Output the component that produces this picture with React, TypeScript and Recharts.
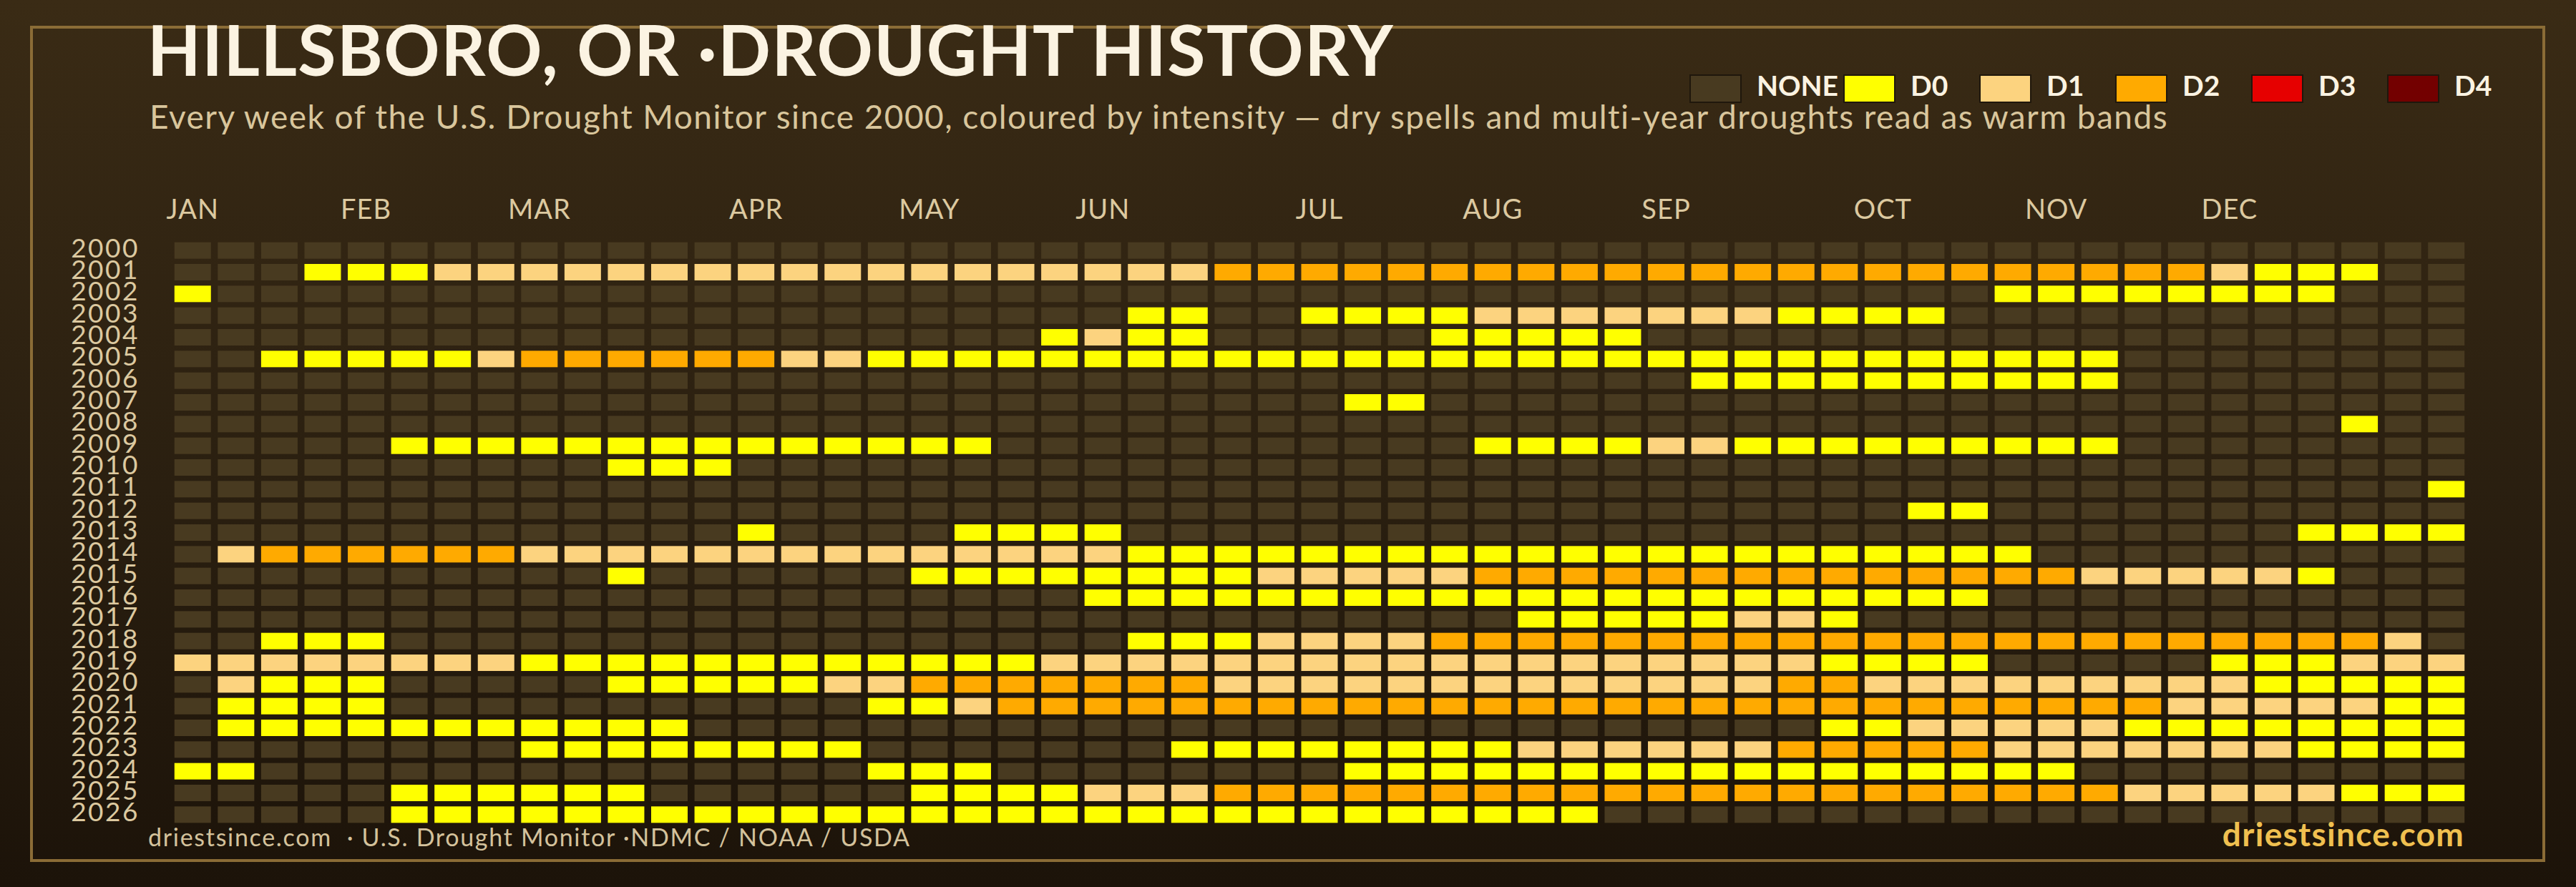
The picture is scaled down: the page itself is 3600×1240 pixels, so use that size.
import React from "react";
import { ScatterChart, Scatter, XAxis, YAxis } from "recharts";

// ---------- DATA ----------
const YEARS = [
  "2000", "2001", "2002", "2003", "2004", "2005", "2006", "2007", "2008",
  "2009", "2010", "2011", "2012", "2013", "2014", "2015", "2016", "2017",
  "2018", "2019", "2020", "2021", "2022", "2023", "2024", "2025", "2026",
];

const MONTH_LABELS = ["JAN", "FEB", "MAR", "APR", "MAY", "JUN", "JUL", "AUG", "SEP", "OCT", "NOV", "DEC"];
const MONTH_START_WEEKS = [0, 4, 8, 13, 17, 21, 26, 30, 34, 39, 43, 47];

const LEVEL_NAMES = ["NONE", "D0", "D1", "D2", "D3", "D4"];
const LEVEL_COLORS = ["#483a20", "#ffff00", "#fcd37f", "#ffaa00", "#e60000", "#730000"];

// weekly drought level per year (53 weeks, 0 = none, 1 = D0 ... 5 = D4), grouped by 10 weeks
const WEEKLY_LEVELS = [
  "0000000000 0000000000 0000000000 0000000000 0000000000 000", // 2000
  "0001112222 2222222222 2222333333 3333333333 3333333211 100", // 2001
  "1000000000 0000000000 0000000000 0000000000 0011111111 000", // 2002
  "0000000000 0000000000 0011001111 2222222111 1000000000 000", // 2003
  "0000000000 0000000000 1211000001 1111000000 0000000000 000", // 2004
  "0011111233 3333221111 1111111111 1111111111 1111100000 000", // 2005
  "0000000000 0000000000 0000000000 0000011111 1111100000 000", // 2006
  "0000000000 0000000000 0000000110 0000000000 0000000000 000", // 2007
  "0000000000 0000000000 0000000000 0000000000 0000000000 100", // 2008
  "0000011111 1111111110 0000000000 1111221111 1111100000 000", // 2009
  "0000000000 1110000000 0000000000 0000000000 0000000000 000", // 2010
  "0000000000 0000000000 0000000000 0000000000 0000000000 001", // 2011
  "0000000000 0000000000 0000000000 0000000000 1100000000 000", // 2012
  "0000000000 0001000011 1100000000 0000000000 0000000001 111", // 2013
  "0233333322 2222222222 2211111111 1111111111 1110000000 000", // 2014
  "0000000000 1000000111 1111122222 3333333333 3333222221 000", // 2015
  "0000000000 0000000000 0111111111 1111111111 1100000000 000", // 2016
  "0000000000 0000000000 0000000000 0111112210 0000000000 000", // 2017
  "0011100000 0000000000 0011122223 3333333333 3333333333 320", // 2018
  "2222222211 1111111111 2222222222 2222222211 1100000111 222", // 2019
  "0211100000 1111122333 3333222222 2222222332 2222222211 111", // 2020
  "0111100000 0000001123 3333333333 3333333333 3333332222 211", // 2021
  "0111111111 1100000000 0000000000 0000000011 2222211111 111", // 2022
  "0000000011 1111110000 0001111111 1222222333 3322222221 111", // 2023
  "1100000000 0000001110 0000000111 1111111111 1111000000 000", // 2024
  "0000011111 1000000111 1222333333 3333333333 3333322222 111", // 2025
  "0000011111 1111111111 1111111111 1110000000 0000000000 000", // 2026
];

const TITLE = "HILLSBORO, OR \u00B7DROUGHT HISTORY";
const SUBTITLE =
  "Every week of the U.S. Drought Monitor since 2000, coloured by intensity \u2014 dry spells and multi-year droughts read as warm bands";
const SOURCE = "driestsince.com  \u00B7 U.S. Drought Monitor \u00B7NDMC / NOAA / USDA";
const BRAND = "driestsince.com";

// ---------- DERIVED TABLE ----------
type Cell = { week: number; row: number; level: number };
const CELLS: Cell[] = [];
WEEKLY_LEVELS.forEach((line, row) => {
  const digits = line.replace(/\s/g, "");
  for (let w = 0; w < digits.length; w++) {
    CELLS.push({ week: w, row, level: Number(digits[w]) });
  }
});
const ROW_TICKS = YEARS.map((_, i) => i);

// ---------- STYLE ----------
const FONT = "Lato, 'Open Sans', sans-serif";
const CELL_W = 51;
const CELL_H = 23;
const LABEL_COLOR = "#dcc9a0";

const renderCell = (props: any) => {
  const { cx, cy, payload } = props;
  if (cx == null || cy == null) return <g />;
  return (
    <rect
      x={cx - CELL_W / 2}
      y={cy - CELL_H / 2}
      width={CELL_W}
      height={CELL_H}
      fill={LEVEL_COLORS[payload.level]}
    />
  );
};

const MonthTick = (props: any) => {
  const { x, y, payload } = props;
  const idx = MONTH_START_WEEKS.indexOf(payload.value);
  return (
    <text
      x={x}
      y={y - 29}
      textAnchor="middle"
      fontFamily={FONT}
      fontSize={38}
      letterSpacing={1}
      fill={LABEL_COLOR}
    >
      {idx >= 0 ? MONTH_LABELS[idx] : ""}
    </text>
  );
};

const YearTick = (props: any) => {
  const { x, y, payload } = props;
  return (
    <text
      x={x - 44}
      y={y + 9.5}
      textAnchor="end"
      fontFamily={FONT}
      fontSize={37}
      letterSpacing={2.5}
      fill={LABEL_COLOR}
    >
      {YEARS[payload.value]}
    </text>
  );
};

export default function App() {
  return (
    <div
      style={{
        position: "absolute",
        left: 0,
        top: 0,
        width: 3600,
        height: 1240,
        overflow: "hidden",
        background: "linear-gradient(180deg, #3a2b15 0%, #2a1f10 55%, #1c1309 100%)",
      }}
    >
      <svg width={3600} height={1240} style={{ position: "absolute", left: 0, top: 0 }}>
        <rect x={44} y={38} width={3511} height={1165} fill="none" stroke="#8b6c36" strokeWidth={4} />
      </svg>

      <div style={{ position: "absolute", left: 0, top: 0 }}>
        <ScatterChart width={3600} height={1240} margin={{ top: 235, right: 151, bottom: 86, left: 89 }}>
          <XAxis
            type="number"
            dataKey="week"
            orientation="top"
            domain={[-0.5, 52.5]}
            ticks={MONTH_START_WEEKS}
            interval={0}
            axisLine={false}
            tickLine={false}
            tickSize={0}
            tickMargin={0}
            height={100}
            tick={MonthTick}
          />
          <YAxis
            type="number"
            dataKey="row"
            domain={[-0.5, 26.5]}
            reversed
            ticks={ROW_TICKS}
            interval={0}
            axisLine={false}
            tickLine={false}
            tickSize={0}
            tickMargin={0}
            width={150}
            tick={YearTick}
          />
          <Scatter data={CELLS} shape={renderCell} isAnimationActive={false} />
        </ScatterChart>
      </div>

      <svg
        width={3600}
        height={1240}
        style={{ position: "absolute", left: 0, top: 0, pointerEvents: "none" }}
      >
        <text x={206} y={106} fontFamily={FONT} fontWeight={700} fontSize={97} letterSpacing={1.5} fill="#fbf3e2">
          {TITLE}
        </text>
        <text x={209} y={180} fontFamily={FONT} fontSize={46} letterSpacing={1.45} fill="#d9c69c">
          {SUBTITLE}
        </text>
        <text x={207} y={1183} fontFamily={FONT} fontSize={34} letterSpacing={1.7} fill="#d4c29c" style={{ whiteSpace: "pre" }}>
          {SOURCE}
        </text>
        <text x={3444} y={1183} textAnchor="end" fontFamily={FONT} fontWeight={700} fontSize={46} letterSpacing={1.3} fill="#f0c050">
          {BRAND}
        </text>
      </svg>

      <div
        style={{
          position: "absolute",
          left: 2361,
          top: 104,
          display: "flex",
          alignItems: "flex-start",
        }}
      >
        {LEVEL_NAMES.map((name, i) => (
          <div key={name} style={{ display: "flex", alignItems: "flex-start" }}>
            <div
              style={{
                width: 73,
                height: 40,
                boxSizing: "border-box",
                border: "2.5px solid #1f170c",
                background: LEVEL_COLORS[i],
              }}
            />
            <span
              style={{
                marginLeft: 21,
                minWidth: 89,
                paddingRight: 7,
                fontFamily: FONT,
                fontWeight: 700,
                fontSize: 39,
                lineHeight: "40px",
                marginTop: -5,
                color: "#fbf3e2",
              }}
            >
              {name}
            </span>
          </div>
        ))}
      </div>
    </div>
  );
}
